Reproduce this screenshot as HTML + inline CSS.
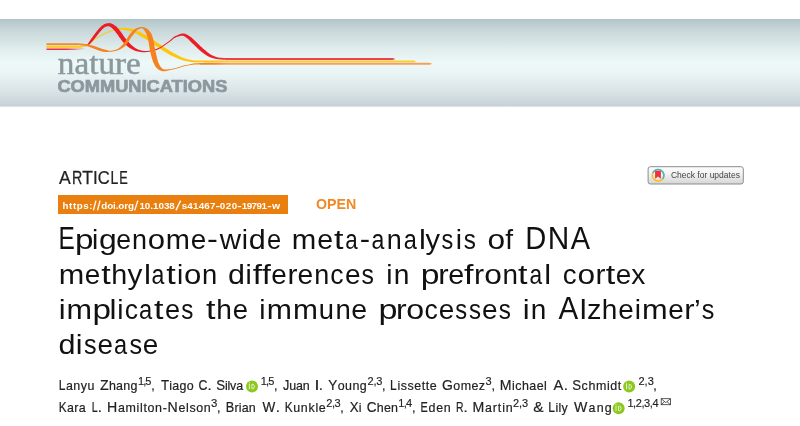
<!DOCTYPE html>
<html><head><meta charset="utf-8">
<title>Epigenome-wide meta-analysis of DNA methylation differences in prefrontal cortex implicates the immune processes in Alzheimer’s disease</title>
<style>
html,body{margin:0;padding:0;background:#fff;}
body{width:800px;height:426px;overflow:hidden;position:relative;font-family:"Liberation Sans",sans-serif;}
#banner{position:absolute;left:0;top:19px;width:800px;height:88px;
 background:linear-gradient(to bottom,#b1c5c8 0%,#c7d6d8 12%,#e2eeee 35%,#edf8f8 50%,#eaf4f5 62%,#dce6e9 80%,#c7d2d8 98.8%,#dde4e8 98.9%,#dde4e8 100%);}
#doibox{position:absolute;left:58px;top:195px;width:230px;height:19px;background:#e97f0f;}
svg{position:absolute;left:0;top:0;will-change:transform;}
text{font-family:"Liberation Sans",sans-serif;}
.t{font-size:28px;fill:#111;}
.a{font-size:13.1px;fill:#222;stroke:#222;stroke-width:0.2px;}
.art{font-size:18px;fill:#222;stroke:#222;stroke-width:0.25px;}
.doi{font-size:9.8px;font-weight:bold;fill:#fff;}
.s{font-size:11px;fill:#222;stroke:#222;stroke-width:0.15px;}
</style></head><body>
<div id="banner"></div>
<div id="doibox"></div>
<svg width="800" height="426" viewBox="0 0 800 426">
<defs><linearGradient id="rf" gradientUnits="userSpaceOnUse" x1="66" y1="0" x2="85" y2="0"><stop offset="0" stop-color="#ec3040"/><stop offset="1" stop-color="#ec3040" stop-opacity="0.15"/></linearGradient><linearGradient id="gy" gradientUnits="userSpaceOnUse" x1="40" y1="0" x2="440" y2="0"><stop offset="0" stop-color="#fcc81a"/><stop offset="0.10" stop-color="#fcc81a"/><stop offset="0.125" stop-color="#fdc60b"/><stop offset="0.43" stop-color="#fdc60b"/><stop offset="0.47" stop-color="#fccf2c"/><stop offset="1" stop-color="#fccf2c"/></linearGradient><linearGradient id="gr" gradientUnits="userSpaceOnUse" x1="40" y1="0" x2="440" y2="0"><stop offset="0" stop-color="#ec3040"/><stop offset="0.10" stop-color="#ec3040"/><stop offset="0.125" stop-color="#ec1c24"/><stop offset="0.43" stop-color="#ec1c24"/><stop offset="0.47" stop-color="#ee4152"/><stop offset="1" stop-color="#ee4152"/></linearGradient><linearGradient id="go" gradientUnits="userSpaceOnUse" x1="40" y1="0" x2="440" y2="0"><stop offset="0" stop-color="#f4872a"/><stop offset="0.10" stop-color="#f4872a"/><stop offset="0.125" stop-color="#f5821f"/><stop offset="0.43" stop-color="#f5821f"/><stop offset="0.47" stop-color="#f4a055"/><stop offset="1" stop-color="#f4a055"/></linearGradient></defs>
<path fill="url(#gy)" d="M46.50 47.70 L47.47 47.70 L48.45 47.70 L49.42 47.70 L50.39 47.70 L51.36 47.70 L52.33 47.70 L53.30 47.70 L54.26 47.70 L55.23 47.70 L56.19 47.70 L57.15 47.70 L58.11 47.70 L59.08 47.70 L60.03 47.70 L60.99 47.70 L61.95 47.70 L62.91 47.70 L63.86 47.70 L64.82 47.70 L65.77 47.70 L66.73 47.70 L67.68 47.70 L68.63 47.70 L69.58 47.70 L70.53 47.70 L71.48 47.70 L72.43 47.70 L73.38 47.70 L74.33 47.70 L75.27 47.70 L76.22 47.70 L77.17 47.70 L78.11 47.70 L79.06 47.70 L80.00 47.70 L81.04 47.62 L82.05 47.41 L83.04 47.11 L84.00 46.76 L84.92 46.39 L85.82 46.03 L86.69 45.71 L87.57 45.36 L88.42 44.92 L89.24 44.40 L90.03 43.84 L90.80 43.23 L91.56 42.59 L92.31 41.93 L93.06 41.27 L93.80 40.62 L94.55 40.00 L95.30 39.41 L96.07 38.87 L96.86 38.39 L97.68 37.90 L98.50 37.42 L99.33 36.95 L100.16 36.48 L101.00 36.01 L101.85 35.56 L102.70 35.11 L103.55 34.67 L104.41 34.24 L105.27 33.83 L106.14 33.42 L107.01 33.03 L107.88 32.66 L108.76 32.30 L109.64 31.96 L110.52 31.64 L111.41 31.33 L112.32 31.04 L113.24 30.78 L114.16 30.54 L115.09 30.33 L116.01 30.15 L116.93 30.01 L117.87 29.90 L118.82 29.80 L119.76 29.72 L120.67 29.68 L121.56 29.69 L122.46 29.75 L123.38 29.84 L124.31 29.95 L125.24 30.09 L126.17 30.25 L127.10 30.42 L128.03 30.61 L128.95 30.80 L129.85 31.00 L130.69 31.21 L131.52 31.47 L132.35 31.78 L133.18 32.11 L134.01 32.49 L134.83 32.89 L135.66 33.32 L136.49 33.77 L137.32 34.24 L138.15 34.72 L138.98 35.21 L139.81 35.70 L140.65 36.20 L141.49 36.69 L142.34 37.18 L143.19 37.65 L143.99 38.10 L144.79 38.56 L145.58 39.04 L146.37 39.53 L147.16 40.03 L147.95 40.54 L148.73 41.07 L149.52 41.60 L150.31 42.13 L151.09 42.67 L151.88 43.22 L152.67 43.76 L153.47 44.31 L154.27 44.85 L155.07 45.40 L155.88 45.94 L156.69 46.47 L157.50 46.99 L158.29 47.50 L159.09 48.03 L159.88 48.55 L160.68 49.08 L161.48 49.62 L162.28 50.15 L163.09 50.68 L163.90 51.22 L164.71 51.74 L165.53 52.27 L166.36 52.78 L167.19 53.29 L168.04 53.79 L168.89 54.27 L169.74 54.74 L170.61 55.20 L171.49 55.64 L172.35 56.05 L173.21 56.46 L174.09 56.87 L174.97 57.28 L175.87 57.68 L176.77 58.07 L177.68 58.45 L178.60 58.82 L179.53 59.17 L180.46 59.51 L181.40 59.83 L182.34 60.13 L183.29 60.41 L184.24 60.66 L185.19 60.89 L186.15 61.09 L187.07 61.27 L188.02 61.46 L188.97 61.64 L189.94 61.81 L190.92 61.97 L191.90 62.10 L192.90 62.20 L193.89 62.27 L194.89 62.30 L195.85 62.30 L196.80 62.30 L197.75 62.30 L198.70 62.30 L199.65 62.30 L200.60 62.30 L201.55 62.30 L202.50 62.30 L203.45 62.30 L204.40 62.30 L205.35 62.30 L206.30 62.30 L207.26 62.30 L208.21 62.30 L209.16 62.30 L210.11 62.30 L211.06 62.30 L212.01 62.30 L212.97 62.30 L213.92 62.30 L214.87 62.30 L215.82 62.30 L216.77 62.30 L217.73 62.30 L218.68 62.30 L219.63 62.30 L220.59 62.30 L221.54 62.30 L222.49 62.30 L223.44 62.30 L224.40 62.30 L225.35 62.30 L226.30 62.30 L227.26 62.30 L228.21 62.30 L229.17 62.30 L230.12 62.30 L231.07 62.30 L232.03 62.30 L232.98 62.30 L233.94 62.30 L234.89 62.30 L235.85 62.30 L236.80 62.30 L237.75 62.30 L238.71 62.30 L239.66 62.30 L240.62 62.30 L241.57 62.30 L242.53 62.30 L243.48 62.30 L244.44 62.30 L245.40 62.30 L246.35 62.30 L247.31 62.30 L248.26 62.30 L249.22 62.30 L250.17 62.30 L251.13 62.30 L252.09 62.30 L253.04 62.30 L254.00 62.30 L254.95 62.30 L255.91 62.30 L256.87 62.30 L257.82 62.30 L258.78 62.30 L259.74 62.30 L260.69 62.30 L261.65 62.30 L262.61 62.30 L263.56 62.30 L264.52 62.30 L265.48 62.30 L266.43 62.30 L267.39 62.30 L268.35 62.30 L269.30 62.30 L270.26 62.30 L271.22 62.30 L272.18 62.30 L273.13 62.30 L274.09 62.30 L275.05 62.30 L276.01 62.30 L276.97 62.30 L277.92 62.30 L278.88 62.30 L279.84 62.30 L280.80 62.30 L281.75 62.30 L282.71 62.30 L283.67 62.30 L284.63 62.30 L285.59 62.30 L286.55 62.30 L287.50 62.30 L288.46 62.30 L289.42 62.30 L290.38 62.30 L291.34 62.30 L292.30 62.30 L293.25 62.30 L294.21 62.30 L295.17 62.30 L296.13 62.30 L297.09 62.30 L298.05 62.30 L299.01 62.30 L299.97 62.30 L300.92 62.30 L301.88 62.30 L302.84 62.30 L303.80 62.30 L304.76 62.30 L305.72 62.30 L306.68 62.30 L307.64 62.30 L308.60 62.30 L309.56 62.30 L310.52 62.30 L311.47 62.30 L312.43 62.30 L313.39 62.30 L314.35 62.30 L315.31 62.30 L316.27 62.30 L317.23 62.30 L318.19 62.30 L319.15 62.30 L320.11 62.30 L321.07 62.30 L322.03 62.30 L322.99 62.30 L323.95 62.30 L324.91 62.30 L325.87 62.30 L326.83 62.30 L327.78 62.30 L328.74 62.30 L329.70 62.30 L330.66 62.30 L331.62 62.30 L332.58 62.30 L333.54 62.30 L334.50 62.30 L335.46 62.30 L336.42 62.30 L337.38 62.30 L338.34 62.30 L339.30 62.30 L340.26 62.30 L341.22 62.30 L342.18 62.30 L343.14 62.30 L344.10 62.30 L345.06 62.30 L346.02 62.30 L346.98 62.30 L347.94 62.30 L348.90 62.30 L349.86 62.30 L350.82 62.30 L351.77 62.30 L352.73 62.30 L353.69 62.30 L354.65 62.30 L355.61 62.30 L356.57 62.30 L357.53 62.30 L358.49 62.30 L359.45 62.30 L360.41 62.30 L361.37 62.30 L362.33 62.30 L363.29 62.30 L364.25 62.30 L365.21 62.30 L366.17 62.30 L367.13 62.30 L368.09 62.30 L369.04 62.30 L370.00 62.30 L370.96 62.30 L371.92 62.30 L372.88 62.30 L373.84 62.30 L374.80 62.30 L375.76 62.30 L376.72 62.30 L377.68 62.30 L378.64 62.30 L379.59 62.30 L380.55 62.30 L381.51 62.30 L382.47 62.30 L383.43 62.30 L384.39 62.30 L385.35 62.30 L386.31 62.30 L387.26 62.30 L388.22 62.30 L389.18 62.30 L390.14 62.30 L391.10 62.30 L392.06 62.30 L393.02 62.30 L393.97 62.30 L394.93 62.30 L395.89 62.30 L396.85 62.30 L397.81 62.30 L398.76 62.30 L399.72 62.30 L400.68 62.30 L401.64 62.30 L402.60 62.30 L403.55 62.30 L404.51 62.30 L405.47 62.30 L406.43 62.30 L407.38 62.30 L408.34 62.30 L409.30 62.30 L410.26 62.30 L411.21 62.30 L412.17 62.30 L413.13 62.30 L414.09 62.13 L415.04 61.81 L416.00 61.50 L416.00 61.20 L415.04 60.89 L414.09 60.57 L413.13 60.40 L412.17 60.40 L411.21 60.40 L410.26 60.40 L409.30 60.40 L408.34 60.40 L407.38 60.40 L406.43 60.40 L405.47 60.40 L404.51 60.40 L403.55 60.40 L402.60 60.40 L401.64 60.40 L400.68 60.40 L399.72 60.40 L398.76 60.40 L397.81 60.40 L396.85 60.40 L395.89 60.40 L394.93 60.40 L393.97 60.40 L393.02 60.40 L392.06 60.40 L391.10 60.40 L390.14 60.40 L389.18 60.40 L388.22 60.40 L387.26 60.40 L386.31 60.40 L385.35 60.40 L384.39 60.40 L383.43 60.40 L382.47 60.40 L381.51 60.40 L380.55 60.40 L379.59 60.40 L378.64 60.40 L377.68 60.40 L376.72 60.40 L375.76 60.40 L374.80 60.40 L373.84 60.40 L372.88 60.40 L371.92 60.40 L370.96 60.40 L370.00 60.40 L369.04 60.40 L368.09 60.40 L367.13 60.40 L366.17 60.40 L365.21 60.40 L364.25 60.40 L363.29 60.40 L362.33 60.40 L361.37 60.40 L360.41 60.40 L359.45 60.40 L358.49 60.40 L357.53 60.40 L356.57 60.40 L355.61 60.40 L354.65 60.40 L353.69 60.40 L352.73 60.40 L351.77 60.40 L350.82 60.40 L349.86 60.40 L348.90 60.40 L347.94 60.40 L346.98 60.40 L346.02 60.40 L345.06 60.40 L344.10 60.40 L343.14 60.40 L342.18 60.40 L341.22 60.40 L340.26 60.40 L339.30 60.40 L338.34 60.40 L337.38 60.40 L336.42 60.40 L335.46 60.40 L334.50 60.40 L333.54 60.40 L332.58 60.40 L331.62 60.40 L330.66 60.40 L329.70 60.40 L328.74 60.40 L327.78 60.40 L326.83 60.40 L325.87 60.40 L324.91 60.40 L323.95 60.40 L322.99 60.40 L322.03 60.40 L321.07 60.40 L320.11 60.40 L319.15 60.40 L318.19 60.40 L317.23 60.40 L316.27 60.40 L315.31 60.40 L314.35 60.40 L313.39 60.40 L312.43 60.40 L311.47 60.40 L310.52 60.40 L309.56 60.40 L308.60 60.40 L307.64 60.40 L306.68 60.40 L305.72 60.40 L304.76 60.40 L303.80 60.40 L302.84 60.40 L301.88 60.40 L300.92 60.40 L299.97 60.40 L299.01 60.40 L298.05 60.40 L297.09 60.40 L296.13 60.40 L295.17 60.40 L294.21 60.40 L293.25 60.40 L292.30 60.40 L291.34 60.40 L290.38 60.40 L289.42 60.40 L288.46 60.40 L287.50 60.40 L286.55 60.40 L285.59 60.40 L284.63 60.40 L283.67 60.40 L282.71 60.40 L281.75 60.40 L280.80 60.40 L279.84 60.40 L278.88 60.40 L277.92 60.40 L276.97 60.40 L276.01 60.40 L275.05 60.40 L274.09 60.40 L273.13 60.40 L272.18 60.40 L271.22 60.40 L270.26 60.40 L269.30 60.40 L268.35 60.40 L267.39 60.40 L266.43 60.40 L265.48 60.40 L264.52 60.40 L263.56 60.40 L262.61 60.40 L261.65 60.40 L260.69 60.40 L259.74 60.40 L258.78 60.40 L257.82 60.40 L256.87 60.40 L255.91 60.40 L254.95 60.40 L254.00 60.40 L253.04 60.40 L252.09 60.40 L251.13 60.40 L250.17 60.40 L249.22 60.40 L248.26 60.40 L247.31 60.40 L246.35 60.40 L245.40 60.40 L244.44 60.40 L243.48 60.40 L242.53 60.40 L241.57 60.40 L240.62 60.40 L239.66 60.40 L238.71 60.40 L237.75 60.40 L236.80 60.40 L235.85 60.40 L234.89 60.40 L233.94 60.40 L232.98 60.40 L232.03 60.40 L231.07 60.40 L230.12 60.40 L229.17 60.40 L228.21 60.40 L227.26 60.40 L226.30 60.40 L225.35 60.40 L224.40 60.40 L223.44 60.40 L222.49 60.40 L221.54 60.40 L220.59 60.40 L219.63 60.40 L218.68 60.40 L217.73 60.40 L216.77 60.40 L215.82 60.40 L214.87 60.40 L213.92 60.40 L212.97 60.40 L212.01 60.40 L211.06 60.40 L210.11 60.40 L209.16 60.40 L208.21 60.40 L207.26 60.40 L206.30 60.40 L205.35 60.40 L204.40 60.40 L203.45 60.40 L202.50 60.40 L201.55 60.40 L200.60 60.40 L199.65 60.40 L198.70 60.40 L197.75 60.40 L196.80 60.40 L195.85 60.40 L194.90 60.40 L194.00 60.37 L193.09 60.29 L192.17 60.17 L191.24 60.01 L190.32 59.83 L189.39 59.62 L188.46 59.40 L187.54 59.17 L186.62 58.95 L185.74 58.72 L184.88 58.45 L184.01 58.15 L183.15 57.82 L182.29 57.47 L181.43 57.09 L180.58 56.69 L179.73 56.27 L178.88 55.84 L178.04 55.40 L177.19 54.95 L176.35 54.50 L175.51 54.04 L174.66 53.59 L173.82 53.14 L172.98 52.69 L172.18 52.26 L171.38 51.81 L170.58 51.34 L169.79 50.86 L169.00 50.37 L168.21 49.86 L167.42 49.34 L166.63 48.82 L165.85 48.29 L165.06 47.75 L164.27 47.21 L163.47 46.66 L162.68 46.12 L161.88 45.57 L161.08 45.03 L160.27 44.50 L159.45 43.96 L158.65 43.45 L157.86 42.93 L157.07 42.41 L156.28 41.88 L155.50 41.34 L154.70 40.80 L153.91 40.26 L153.11 39.72 L152.32 39.18 L151.51 38.64 L150.70 38.10 L149.89 37.57 L149.07 37.04 L148.24 36.53 L147.41 36.02 L146.56 35.52 L145.71 35.04 L144.85 34.57 L144.02 34.13 L143.18 33.68 L142.34 33.22 L141.48 32.75 L140.60 32.29 L139.72 31.84 L138.83 31.39 L137.93 30.96 L137.01 30.54 L136.09 30.14 L135.16 29.77 L134.21 29.43 L133.26 29.12 L132.29 28.85 L131.32 28.62 L130.34 28.44 L129.40 28.30 L128.45 28.16 L127.49 28.03 L126.51 27.91 L125.52 27.81 L124.53 27.74 L123.53 27.69 L122.53 27.68 L121.53 27.71 L120.51 27.82 L119.52 27.99 L118.55 28.21 L117.61 28.44 L116.68 28.66 L115.73 28.90 L114.79 29.18 L113.85 29.48 L112.93 29.80 L112.02 30.13 L111.11 30.46 L110.22 30.79 L109.32 31.12 L108.42 31.47 L107.53 31.83 L106.65 32.21 L105.76 32.60 L104.89 33.01 L104.01 33.43 L103.14 33.87 L102.28 34.31 L101.42 34.76 L100.57 35.22 L99.73 35.69 L98.89 36.16 L98.05 36.64 L97.22 37.13 L96.40 37.61 L95.58 38.12 L94.77 38.69 L93.98 39.30 L93.22 39.94 L92.46 40.60 L91.72 41.26 L90.97 41.90 L90.23 42.53 L89.49 43.12 L88.74 43.66 L87.97 44.14 L87.20 44.54 L86.40 44.86 L85.53 45.12 L84.60 45.32 L83.66 45.48 L82.71 45.59 L81.77 45.66 L80.87 45.69 L80.00 45.70 L79.06 45.70 L78.11 45.70 L77.17 45.70 L76.22 45.70 L75.27 45.70 L74.33 45.70 L73.38 45.70 L72.43 45.70 L71.48 45.70 L70.53 45.70 L69.58 45.70 L68.63 45.70 L67.68 45.70 L66.73 45.70 L65.77 45.70 L64.82 45.70 L63.86 45.70 L62.91 45.70 L61.95 45.70 L60.99 45.70 L60.03 45.70 L59.08 45.70 L58.11 45.70 L57.15 45.70 L56.19 45.70 L55.23 45.70 L54.26 45.70 L53.30 45.70 L52.33 45.70 L51.36 45.70 L50.39 45.70 L49.42 45.70 L48.45 45.70 L47.47 45.70 L46.50 45.70Z"/>
<path fill="url(#rf)" d="M46.50 50.00 L46.60 50.00 L46.69 50.00 L46.79 50.00 L46.89 50.00 L46.98 50.00 L47.08 50.00 L47.18 50.00 L47.27 50.00 L47.37 50.00 L47.47 50.00 L47.56 50.00 L47.66 50.00 L47.76 50.00 L47.85 50.00 L47.95 50.00 L48.05 50.00 L48.14 50.00 L48.24 50.00 L48.34 50.00 L48.43 50.00 L48.53 50.00 L48.63 50.00 L48.72 50.00 L48.82 50.00 L48.92 50.00 L49.01 50.00 L49.11 50.00 L49.21 50.00 L49.30 50.00 L49.40 50.00 L49.50 50.00 L49.59 50.00 L49.69 50.00 L49.79 50.00 L49.88 50.00 L49.98 50.00 L50.08 50.00 L50.17 50.00 L50.27 50.00 L50.37 50.00 L50.46 50.00 L50.56 50.00 L50.66 50.00 L50.75 50.00 L50.85 50.00 L50.95 50.00 L51.04 50.00 L51.14 50.00 L51.24 50.00 L51.33 50.00 L51.43 50.00 L51.53 50.00 L51.62 50.00 L51.72 50.00 L51.82 50.00 L51.91 50.00 L52.01 50.00 L52.11 50.00 L52.20 50.00 L52.30 50.00 L52.40 50.00 L52.49 50.00 L52.59 50.00 L52.69 50.00 L52.78 50.00 L52.88 50.00 L52.98 50.00 L53.07 50.00 L53.17 50.00 L53.27 50.00 L53.36 50.00 L53.46 50.00 L53.56 50.00 L53.65 50.00 L53.75 50.00 L53.85 50.00 L53.94 50.00 L54.04 50.00 L54.14 50.00 L54.23 50.00 L54.33 50.00 L54.43 50.00 L54.52 50.00 L54.62 50.00 L54.72 50.00 L54.81 50.00 L54.91 50.00 L55.01 50.00 L55.10 50.00 L55.20 50.00 L55.30 50.00 L55.39 50.00 L55.49 50.00 L55.59 50.00 L55.68 50.00 L55.78 50.00 L55.88 50.00 L55.97 50.00 L56.07 50.00 L56.17 50.00 L56.26 50.00 L56.36 50.00 L56.46 50.00 L56.55 50.00 L56.65 50.00 L56.75 50.00 L56.84 50.00 L56.94 50.00 L57.04 50.00 L57.13 50.00 L57.23 50.00 L57.33 50.00 L57.42 50.00 L57.52 50.00 L57.62 50.00 L57.71 50.00 L57.81 50.00 L57.91 50.00 L58.00 50.00 L58.10 50.00 L58.20 50.00 L58.29 50.00 L58.39 50.00 L58.49 50.00 L58.58 50.00 L58.68 50.00 L58.78 50.00 L58.87 50.00 L58.97 50.00 L59.07 50.00 L59.16 50.00 L59.26 50.00 L59.36 50.00 L59.45 50.00 L59.55 50.00 L59.65 50.00 L59.74 50.00 L59.84 50.00 L59.94 50.00 L60.03 50.00 L60.13 50.00 L60.23 50.00 L60.32 50.00 L60.42 50.00 L60.52 50.00 L60.61 50.00 L60.71 50.00 L60.81 50.00 L60.90 50.00 L61.00 50.00 L61.10 50.00 L61.19 50.00 L61.29 50.00 L61.39 50.00 L61.48 50.00 L61.58 50.00 L61.68 50.00 L61.77 50.00 L61.87 50.00 L61.97 50.00 L62.06 50.00 L62.16 50.00 L62.26 50.00 L62.35 50.00 L62.45 50.00 L62.55 50.00 L62.64 50.00 L62.74 50.00 L62.84 50.00 L62.93 50.00 L63.03 50.00 L63.13 50.00 L63.22 50.00 L63.32 50.00 L63.42 50.00 L63.51 50.00 L63.61 50.00 L63.71 50.00 L63.80 50.00 L63.90 50.00 L64.00 50.00 L64.09 50.00 L64.19 50.00 L64.29 50.00 L64.38 50.00 L64.48 50.00 L64.58 50.00 L64.67 50.00 L64.77 50.00 L64.87 50.00 L64.96 50.00 L65.06 50.00 L65.15 50.00 L65.25 50.00 L65.35 50.00 L65.44 50.00 L65.54 50.00 L65.64 50.00 L65.73 50.00 L65.83 50.00 L65.93 50.00 L66.02 50.00 L66.12 50.00 L66.22 50.00 L66.31 50.00 L66.41 50.00 L66.51 50.00 L66.60 50.00 L66.70 50.00 L66.80 50.00 L66.89 50.00 L66.99 50.00 L67.09 50.00 L67.18 50.00 L67.28 50.00 L67.38 50.00 L67.47 50.00 L67.57 50.00 L67.67 50.00 L67.76 50.00 L67.86 50.00 L67.96 50.00 L68.05 50.00 L68.15 50.00 L68.25 50.00 L68.34 50.00 L68.44 50.00 L68.54 50.00 L68.63 50.00 L68.73 50.00 L68.83 50.00 L68.92 50.00 L69.02 50.00 L69.12 50.00 L69.21 50.00 L69.31 50.00 L69.41 50.00 L69.50 50.00 L69.60 50.00 L69.70 50.00 L69.79 50.00 L69.89 50.00 L69.99 50.00 L70.08 50.00 L70.18 50.00 L70.28 50.00 L70.38 50.00 L70.47 50.00 L70.57 50.00 L70.67 50.00 L70.76 50.00 L70.86 50.00 L70.96 50.00 L71.05 49.99 L71.15 49.99 L71.25 49.99 L71.35 49.99 L71.44 49.99 L71.54 49.99 L71.64 49.99 L71.73 49.99 L71.83 49.99 L71.93 49.98 L72.03 49.98 L72.12 49.98 L72.22 49.98 L72.32 49.98 L72.41 49.97 L72.51 49.97 L72.61 49.97 L72.71 49.97 L72.80 49.97 L72.90 49.96 L73.00 49.96 L73.09 49.96 L73.19 49.96 L73.29 49.95 L73.39 49.95 L73.48 49.95 L73.58 49.94 L73.68 49.94 L73.77 49.94 L73.87 49.93 L73.97 49.93 L74.07 49.93 L74.16 49.93 L74.26 49.92 L74.36 49.92 L74.45 49.91 L74.55 49.91 L74.65 49.91 L74.75 49.90 L74.84 49.90 L74.94 49.90 L75.04 49.89 L75.13 49.89 L75.23 49.88 L75.33 49.88 L75.42 49.88 L75.52 49.87 L75.62 49.87 L75.72 49.86 L75.81 49.86 L75.91 49.85 L76.01 49.85 L76.10 49.84 L76.20 49.84 L76.30 49.83 L76.39 49.83 L76.49 49.82 L76.59 49.82 L76.68 49.81 L76.78 49.81 L76.88 49.80 L76.97 49.80 L77.07 49.79 L77.17 49.79 L77.26 49.78 L77.36 49.78 L77.46 49.77 L77.55 49.76 L77.65 49.76 L77.75 49.75 L77.84 49.75 L77.94 49.74 L78.04 49.74 L78.13 49.73 L78.23 49.72 L78.33 49.72 L78.42 49.71 L78.52 49.70 L78.62 49.70 L78.71 49.69 L78.81 49.69 L78.91 49.68 L79.00 49.67 L79.10 49.67 L79.20 49.66 L79.29 49.65 L79.39 49.65 L79.48 49.64 L79.58 49.63 L79.68 49.63 L79.77 49.62 L79.87 49.61 L79.96 49.60 L80.06 49.60 L80.16 49.59 L80.26 49.58 L80.36 49.57 L80.46 49.56 L80.56 49.55 L80.66 49.53 L80.76 49.52 L80.86 49.50 L80.96 49.49 L81.05 49.47 L81.15 49.45 L81.25 49.44 L81.35 49.42 L81.45 49.40 L81.54 49.38 L81.64 49.36 L81.74 49.34 L81.83 49.31 L81.93 49.29 L82.03 49.27 L82.12 49.24 L82.22 49.22 L82.31 49.19 L82.41 49.17 L82.50 49.14 L82.60 49.12 L82.69 49.09 L82.79 49.06 L82.88 49.04 L82.98 49.01 L83.07 48.98 L83.17 48.95 L83.26 48.92 L83.35 48.89 L83.45 48.86 L83.54 48.83 L83.64 48.80 L83.73 48.77 L83.82 48.74 L83.92 48.71 L84.01 48.68 L84.10 48.65 L84.20 48.62 L84.29 48.59 L84.38 48.56 L84.47 48.53 L84.57 48.50 L84.66 48.47 L84.75 48.44 L84.85 48.41 L84.94 48.38 L85.03 48.35 L84.97 48.05 L84.87 48.06 L84.77 48.07 L84.68 48.08 L84.58 48.09 L84.48 48.10 L84.39 48.11 L84.29 48.12 L84.19 48.13 L84.09 48.14 L84.00 48.15 L83.90 48.16 L83.80 48.17 L83.70 48.17 L83.61 48.18 L83.51 48.19 L83.41 48.20 L83.32 48.21 L83.22 48.22 L83.12 48.23 L83.03 48.24 L82.93 48.25 L82.83 48.25 L82.74 48.26 L82.64 48.27 L82.55 48.28 L82.45 48.29 L82.35 48.29 L82.26 48.30 L82.16 48.31 L82.07 48.32 L81.97 48.32 L81.88 48.33 L81.78 48.33 L81.69 48.34 L81.59 48.35 L81.50 48.35 L81.41 48.36 L81.31 48.36 L81.22 48.37 L81.12 48.37 L81.03 48.38 L80.94 48.38 L80.84 48.38 L80.75 48.39 L80.66 48.39 L80.57 48.39 L80.47 48.39 L80.38 48.40 L80.29 48.40 L80.20 48.40 L80.10 48.40 L80.01 48.40 L79.92 48.40 L79.82 48.40 L79.73 48.40 L79.63 48.40 L79.53 48.40 L79.44 48.40 L79.34 48.40 L79.25 48.40 L79.15 48.40 L79.05 48.40 L78.96 48.40 L78.86 48.40 L78.77 48.40 L78.67 48.40 L78.57 48.40 L78.48 48.40 L78.38 48.40 L78.28 48.40 L78.19 48.40 L78.09 48.40 L78.00 48.41 L77.90 48.41 L77.80 48.41 L77.71 48.41 L77.61 48.41 L77.51 48.41 L77.42 48.41 L77.32 48.41 L77.23 48.41 L77.13 48.41 L77.03 48.41 L76.94 48.41 L76.84 48.41 L76.74 48.41 L76.65 48.41 L76.55 48.41 L76.45 48.41 L76.36 48.41 L76.26 48.41 L76.16 48.41 L76.07 48.41 L75.97 48.41 L75.87 48.41 L75.78 48.41 L75.68 48.41 L75.59 48.41 L75.49 48.41 L75.39 48.41 L75.30 48.41 L75.20 48.40 L75.10 48.40 L75.01 48.40 L74.91 48.40 L74.81 48.40 L74.72 48.40 L74.62 48.40 L74.52 48.40 L74.43 48.40 L74.33 48.40 L74.23 48.40 L74.14 48.40 L74.04 48.40 L73.94 48.40 L73.85 48.40 L73.75 48.40 L73.65 48.40 L73.56 48.40 L73.46 48.40 L73.36 48.40 L73.27 48.40 L73.17 48.40 L73.07 48.40 L72.98 48.40 L72.88 48.40 L72.78 48.40 L72.69 48.40 L72.59 48.40 L72.50 48.40 L72.40 48.40 L72.30 48.40 L72.21 48.40 L72.11 48.40 L72.01 48.40 L71.92 48.40 L71.82 48.40 L71.72 48.40 L71.63 48.40 L71.53 48.40 L71.43 48.40 L71.34 48.40 L71.24 48.40 L71.14 48.40 L71.05 48.40 L70.95 48.40 L70.85 48.40 L70.76 48.40 L70.66 48.40 L70.57 48.40 L70.47 48.40 L70.37 48.40 L70.28 48.40 L70.18 48.40 L70.08 48.40 L69.99 48.40 L69.89 48.40 L69.79 48.40 L69.70 48.40 L69.60 48.40 L69.50 48.40 L69.41 48.40 L69.31 48.40 L69.21 48.40 L69.12 48.40 L69.02 48.40 L68.92 48.40 L68.83 48.40 L68.73 48.40 L68.63 48.40 L68.54 48.40 L68.44 48.40 L68.34 48.40 L68.25 48.40 L68.15 48.40 L68.05 48.40 L67.96 48.40 L67.86 48.40 L67.76 48.40 L67.67 48.40 L67.57 48.40 L67.47 48.40 L67.38 48.40 L67.28 48.40 L67.18 48.40 L67.09 48.40 L66.99 48.40 L66.89 48.40 L66.80 48.40 L66.70 48.40 L66.60 48.40 L66.51 48.40 L66.41 48.40 L66.31 48.40 L66.22 48.40 L66.12 48.40 L66.02 48.40 L65.93 48.40 L65.83 48.40 L65.73 48.40 L65.64 48.40 L65.54 48.40 L65.44 48.40 L65.35 48.40 L65.25 48.40 L65.15 48.40 L65.06 48.40 L64.96 48.40 L64.87 48.40 L64.77 48.40 L64.67 48.40 L64.58 48.40 L64.48 48.40 L64.38 48.40 L64.29 48.40 L64.19 48.40 L64.09 48.40 L64.00 48.40 L63.90 48.40 L63.80 48.40 L63.71 48.40 L63.61 48.40 L63.51 48.40 L63.42 48.40 L63.32 48.40 L63.22 48.40 L63.13 48.40 L63.03 48.40 L62.93 48.40 L62.84 48.40 L62.74 48.40 L62.64 48.40 L62.55 48.40 L62.45 48.40 L62.35 48.40 L62.26 48.40 L62.16 48.40 L62.06 48.40 L61.97 48.40 L61.87 48.40 L61.77 48.40 L61.68 48.40 L61.58 48.40 L61.48 48.40 L61.39 48.40 L61.29 48.40 L61.19 48.40 L61.10 48.40 L61.00 48.40 L60.90 48.40 L60.81 48.40 L60.71 48.40 L60.61 48.40 L60.52 48.40 L60.42 48.40 L60.32 48.40 L60.23 48.40 L60.13 48.40 L60.03 48.40 L59.94 48.40 L59.84 48.40 L59.74 48.40 L59.65 48.40 L59.55 48.40 L59.45 48.40 L59.36 48.40 L59.26 48.40 L59.16 48.40 L59.07 48.40 L58.97 48.40 L58.87 48.40 L58.78 48.40 L58.68 48.40 L58.58 48.40 L58.49 48.40 L58.39 48.40 L58.29 48.40 L58.20 48.40 L58.10 48.40 L58.00 48.40 L57.91 48.40 L57.81 48.40 L57.71 48.40 L57.62 48.40 L57.52 48.40 L57.42 48.40 L57.33 48.40 L57.23 48.40 L57.13 48.40 L57.04 48.40 L56.94 48.40 L56.84 48.40 L56.75 48.40 L56.65 48.40 L56.55 48.40 L56.46 48.40 L56.36 48.40 L56.26 48.40 L56.17 48.40 L56.07 48.40 L55.97 48.40 L55.88 48.40 L55.78 48.40 L55.68 48.40 L55.59 48.40 L55.49 48.40 L55.39 48.40 L55.30 48.40 L55.20 48.40 L55.10 48.40 L55.01 48.40 L54.91 48.40 L54.81 48.40 L54.72 48.40 L54.62 48.40 L54.52 48.40 L54.43 48.40 L54.33 48.40 L54.23 48.40 L54.14 48.40 L54.04 48.40 L53.94 48.40 L53.85 48.40 L53.75 48.40 L53.65 48.40 L53.56 48.40 L53.46 48.40 L53.36 48.40 L53.27 48.40 L53.17 48.40 L53.07 48.40 L52.98 48.40 L52.88 48.40 L52.78 48.40 L52.69 48.40 L52.59 48.40 L52.49 48.40 L52.40 48.40 L52.30 48.40 L52.20 48.40 L52.11 48.40 L52.01 48.40 L51.91 48.40 L51.82 48.40 L51.72 48.40 L51.62 48.40 L51.53 48.40 L51.43 48.40 L51.33 48.40 L51.24 48.40 L51.14 48.40 L51.04 48.40 L50.95 48.40 L50.85 48.40 L50.75 48.40 L50.66 48.40 L50.56 48.40 L50.46 48.40 L50.37 48.40 L50.27 48.40 L50.17 48.40 L50.08 48.40 L49.98 48.40 L49.88 48.40 L49.79 48.40 L49.69 48.40 L49.59 48.40 L49.50 48.40 L49.40 48.40 L49.30 48.40 L49.21 48.40 L49.11 48.40 L49.01 48.40 L48.92 48.40 L48.82 48.40 L48.72 48.40 L48.63 48.40 L48.53 48.40 L48.43 48.40 L48.34 48.40 L48.24 48.40 L48.14 48.40 L48.05 48.40 L47.95 48.40 L47.85 48.40 L47.76 48.40 L47.66 48.40 L47.56 48.40 L47.47 48.40 L47.37 48.40 L47.27 48.40 L47.18 48.40 L47.08 48.40 L46.98 48.40 L46.89 48.40 L46.79 48.40 L46.69 48.40 L46.60 48.40 L46.50 48.40Z"/>
<path fill="url(#gr)" d="M86.09 46.42 L86.88 46.01 L87.65 45.57 L88.40 45.09 L89.11 44.57 L89.79 44.00 L90.44 43.39 L91.06 42.76 L91.66 42.12 L92.24 41.46 L92.80 40.81 L93.35 40.16 L93.90 39.52 L94.45 38.85 L95.00 38.18 L95.54 37.51 L96.07 36.85 L96.60 36.18 L97.13 35.52 L97.65 34.86 L98.19 34.19 L98.72 33.51 L99.25 32.83 L99.77 32.17 L100.30 31.52 L100.83 30.90 L101.37 30.30 L101.93 29.71 L102.52 29.11 L103.11 28.54 L103.69 28.03 L104.26 27.60 L104.96 27.15 L105.63 26.74 L106.22 26.47 L106.68 26.38 L107.48 26.32 L108.30 26.28 L109.08 26.29 L109.47 26.38 L109.98 26.64 L110.64 27.06 L111.31 27.50 L111.83 27.91 L112.36 28.42 L112.91 28.99 L113.49 29.59 L114.01 30.14 L114.51 30.73 L115.02 31.35 L115.54 32.00 L116.06 32.64 L116.56 33.27 L117.05 33.93 L117.53 34.59 L118.02 35.28 L118.50 35.97 L118.99 36.68 L119.48 37.39 L119.98 38.11 L120.49 38.82 L121.02 39.54 L121.56 40.25 L122.13 40.96 L122.72 41.65 L123.30 42.31 L123.89 42.94 L124.51 43.58 L125.14 44.21 L125.79 44.84 L126.46 45.45 L127.15 46.05 L127.86 46.63 L128.59 47.18 L129.33 47.71 L130.09 48.21 L130.85 48.67 L131.62 49.10 L132.41 49.51 L133.24 49.91 L134.08 50.29 L134.94 50.64 L135.81 50.95 L136.69 51.21 L137.57 51.43 L138.41 51.60 L139.26 51.76 L140.14 51.92 L141.02 52.06 L141.92 52.16 L142.82 52.23 L143.72 52.25 L144.60 52.23 L145.46 52.17 L146.33 52.10 L147.20 52.01 L148.07 51.90 L148.93 51.78 L149.79 51.65 L150.64 51.52 L151.49 51.39 L152.33 51.25 L153.19 51.07 L154.04 50.84 L154.89 50.57 L155.72 50.27 L156.54 49.96 L157.34 49.63 L158.12 49.29 L158.90 48.94 L159.67 48.56 L160.43 48.15 L161.18 47.72 L161.93 47.27 L162.66 46.80 L163.38 46.32 L164.10 45.83 L164.82 45.34 L165.53 44.84 L166.23 44.34 L166.94 43.84 L167.64 43.35 L168.35 42.87 L169.06 42.36 L169.77 41.82 L170.46 41.26 L171.14 40.70 L171.82 40.14 L172.49 39.58 L173.17 39.05 L173.85 38.55 L174.53 38.09 L175.22 37.67 L175.91 37.30 L176.61 37.00 L177.38 36.73 L178.19 36.46 L179.02 36.21 L179.85 36.00 L180.67 35.83 L181.47 35.72 L182.22 35.68 L182.89 35.71 L183.46 35.86 L184.07 36.14 L184.72 36.53 L185.40 37.01 L186.09 37.52 L186.80 38.05 L187.46 38.52 L188.03 38.98 L188.59 39.50 L189.16 40.06 L189.73 40.65 L190.32 41.27 L190.92 41.90 L191.55 42.53 L192.21 43.15 L192.83 43.72 L193.44 44.29 L194.05 44.87 L194.66 45.47 L195.27 46.06 L195.88 46.66 L196.50 47.27 L197.12 47.87 L197.75 48.48 L198.38 49.07 L199.03 49.67 L199.68 50.26 L200.34 50.84 L201.02 51.41 L201.71 51.96 L202.40 52.49 L203.08 53.00 L203.78 53.52 L204.49 54.04 L205.23 54.56 L205.98 55.06 L206.75 55.55 L207.53 56.02 L208.33 56.46 L209.15 56.87 L209.98 57.25 L210.83 57.57 L211.66 57.85 L212.48 58.09 L213.32 58.33 L214.18 58.55 L215.05 58.76 L215.94 58.94 L216.82 59.11 L217.72 59.25 L218.61 59.37 L219.50 59.46 L220.37 59.53 L221.22 59.59 L222.07 59.64 L222.93 59.70 L223.79 59.75 L224.65 59.80 L225.51 59.84 L226.38 59.88 L227.24 59.91 L228.11 59.93 L228.97 59.94 L229.84 59.95 L230.70 59.95 L231.55 59.95 L232.41 59.95 L233.26 59.95 L234.12 59.95 L234.97 59.95 L235.83 59.95 L236.68 59.95 L237.54 59.95 L238.39 59.95 L239.25 59.95 L240.10 59.95 L240.96 59.95 L241.82 59.95 L242.67 59.95 L243.53 59.95 L244.38 59.95 L245.24 59.95 L246.09 59.95 L246.95 59.95 L247.80 59.95 L248.66 59.95 L249.51 59.95 L250.37 59.95 L251.23 59.95 L252.08 59.95 L252.94 59.95 L253.79 59.95 L254.65 59.95 L255.50 59.95 L256.36 59.95 L257.21 59.95 L258.07 59.95 L258.93 59.95 L259.78 59.95 L260.64 59.95 L261.49 59.95 L262.35 59.95 L263.20 59.95 L264.06 59.95 L264.91 59.95 L265.77 59.95 L266.63 59.95 L267.48 59.95 L268.34 59.95 L269.19 59.95 L270.05 59.95 L270.90 59.95 L271.76 59.95 L272.62 59.95 L273.47 59.95 L274.33 59.95 L275.18 59.95 L276.04 59.95 L276.89 59.95 L277.75 59.95 L278.61 59.95 L279.46 59.95 L280.32 59.95 L281.17 59.95 L282.03 59.95 L282.88 59.95 L283.74 59.95 L284.60 59.95 L285.45 59.95 L286.31 59.95 L287.16 59.95 L288.02 59.95 L288.87 59.95 L289.73 59.95 L290.59 59.95 L291.44 59.95 L292.30 59.95 L293.15 59.95 L294.01 59.95 L294.86 59.95 L295.72 59.95 L296.58 59.95 L297.43 59.95 L298.29 59.95 L299.14 59.95 L300.00 59.95 L300.86 59.95 L301.71 59.95 L302.57 59.95 L303.42 59.95 L304.28 59.95 L305.13 59.95 L305.99 59.95 L306.85 59.95 L307.70 59.95 L308.56 59.95 L309.41 59.95 L310.27 59.95 L311.13 59.95 L311.98 59.95 L312.84 59.95 L313.69 59.95 L314.55 59.95 L315.41 59.95 L316.26 59.95 L317.12 59.95 L317.97 59.95 L318.83 59.95 L319.68 59.95 L320.54 59.95 L321.40 59.95 L322.25 59.95 L323.11 59.95 L323.96 59.95 L324.82 59.95 L325.68 59.95 L326.53 59.95 L327.39 59.95 L328.24 59.95 L329.10 59.95 L329.96 59.95 L330.81 59.95 L331.67 59.95 L332.52 59.95 L333.38 59.95 L334.23 59.95 L335.09 59.95 L335.95 59.95 L336.80 59.95 L337.66 59.95 L338.51 59.95 L339.37 59.95 L340.23 59.95 L341.08 59.95 L341.94 59.95 L342.79 59.95 L343.65 59.95 L344.51 59.95 L345.36 59.95 L346.22 59.95 L347.07 59.95 L347.93 59.95 L348.79 59.95 L349.64 59.95 L350.50 59.95 L351.35 59.95 L352.21 59.95 L353.06 59.95 L353.92 59.95 L354.78 59.95 L355.63 59.95 L356.49 59.95 L357.34 59.95 L358.20 59.95 L359.06 59.95 L359.91 59.95 L360.77 59.95 L361.62 59.95 L362.48 59.95 L363.34 59.95 L364.19 59.95 L365.05 59.95 L365.90 59.95 L366.76 59.95 L367.61 59.95 L368.47 59.95 L369.33 59.95 L370.18 59.95 L371.04 59.95 L371.89 59.95 L372.75 59.95 L373.61 59.95 L374.46 59.95 L375.32 59.95 L376.17 59.95 L377.03 59.95 L377.88 59.95 L378.74 59.95 L379.60 59.95 L380.45 59.95 L381.31 59.95 L382.16 59.95 L383.02 59.95 L383.88 59.95 L384.73 59.95 L385.59 59.95 L386.44 59.95 L387.30 59.95 L388.15 59.95 L389.01 59.95 L389.87 59.95 L390.72 59.95 L391.58 59.95 L392.43 59.92 L393.29 59.72 L394.14 59.43 L395.00 59.15 L395.00 58.85 L394.14 58.57 L393.29 58.28 L392.43 58.08 L391.58 58.05 L390.72 58.05 L389.87 58.05 L389.01 58.05 L388.15 58.05 L387.30 58.05 L386.44 58.05 L385.59 58.05 L384.73 58.05 L383.88 58.05 L383.02 58.05 L382.16 58.05 L381.31 58.05 L380.45 58.05 L379.60 58.05 L378.74 58.05 L377.88 58.05 L377.03 58.05 L376.17 58.05 L375.32 58.05 L374.46 58.05 L373.61 58.05 L372.75 58.05 L371.89 58.05 L371.04 58.05 L370.18 58.05 L369.33 58.05 L368.47 58.05 L367.61 58.05 L366.76 58.05 L365.90 58.05 L365.05 58.05 L364.19 58.05 L363.34 58.05 L362.48 58.05 L361.62 58.05 L360.77 58.05 L359.91 58.05 L359.06 58.05 L358.20 58.05 L357.34 58.05 L356.49 58.05 L355.63 58.05 L354.78 58.05 L353.92 58.05 L353.06 58.05 L352.21 58.05 L351.35 58.05 L350.50 58.05 L349.64 58.05 L348.79 58.05 L347.93 58.05 L347.07 58.05 L346.22 58.05 L345.36 58.05 L344.51 58.05 L343.65 58.05 L342.79 58.05 L341.94 58.05 L341.08 58.05 L340.23 58.05 L339.37 58.05 L338.51 58.05 L337.66 58.05 L336.80 58.05 L335.95 58.05 L335.09 58.05 L334.23 58.05 L333.38 58.05 L332.52 58.05 L331.67 58.05 L330.81 58.05 L329.96 58.05 L329.10 58.05 L328.24 58.05 L327.39 58.05 L326.53 58.05 L325.68 58.05 L324.82 58.05 L323.96 58.05 L323.11 58.05 L322.25 58.05 L321.40 58.05 L320.54 58.05 L319.68 58.05 L318.83 58.05 L317.97 58.05 L317.12 58.05 L316.26 58.05 L315.41 58.05 L314.55 58.05 L313.69 58.05 L312.84 58.05 L311.98 58.05 L311.13 58.05 L310.27 58.05 L309.41 58.05 L308.56 58.05 L307.70 58.05 L306.85 58.05 L305.99 58.05 L305.13 58.05 L304.28 58.05 L303.42 58.05 L302.57 58.05 L301.71 58.05 L300.86 58.05 L300.00 58.05 L299.14 58.05 L298.29 58.05 L297.43 58.05 L296.58 58.05 L295.72 58.05 L294.86 58.05 L294.01 58.05 L293.15 58.05 L292.30 58.05 L291.44 58.05 L290.59 58.05 L289.73 58.05 L288.87 58.05 L288.02 58.05 L287.16 58.05 L286.31 58.05 L285.45 58.05 L284.60 58.05 L283.74 58.05 L282.88 58.05 L282.03 58.05 L281.17 58.05 L280.32 58.05 L279.46 58.05 L278.61 58.05 L277.75 58.05 L276.89 58.05 L276.04 58.05 L275.18 58.05 L274.33 58.05 L273.47 58.05 L272.62 58.05 L271.76 58.05 L270.90 58.05 L270.05 58.05 L269.19 58.05 L268.34 58.05 L267.48 58.05 L266.63 58.05 L265.77 58.05 L264.91 58.05 L264.06 58.05 L263.20 58.05 L262.35 58.05 L261.49 58.05 L260.64 58.05 L259.78 58.05 L258.93 58.05 L258.07 58.05 L257.21 58.05 L256.36 58.05 L255.50 58.05 L254.65 58.05 L253.79 58.05 L252.94 58.05 L252.08 58.05 L251.23 58.05 L250.37 58.05 L249.51 58.05 L248.66 58.05 L247.80 58.05 L246.95 58.05 L246.09 58.05 L245.24 58.05 L244.38 58.05 L243.53 58.05 L242.67 58.05 L241.82 58.05 L240.96 58.05 L240.10 58.05 L239.25 58.05 L238.39 58.05 L237.54 58.05 L236.68 58.05 L235.83 58.05 L234.97 58.05 L234.12 58.05 L233.26 58.05 L232.41 58.05 L231.55 58.05 L230.70 58.05 L229.84 58.05 L228.99 58.05 L228.14 58.04 L227.29 58.02 L226.44 58.01 L225.58 57.98 L224.73 57.95 L223.88 57.92 L223.03 57.88 L222.18 57.84 L221.33 57.79 L220.49 57.73 L219.67 57.67 L218.87 57.56 L218.06 57.40 L217.25 57.19 L216.44 56.95 L215.64 56.68 L214.85 56.39 L214.07 56.09 L213.30 55.77 L212.54 55.45 L211.83 55.13 L211.16 54.79 L210.49 54.40 L209.83 53.96 L209.17 53.49 L208.51 53.00 L207.86 52.48 L207.20 51.94 L206.55 51.39 L205.88 50.83 L205.22 50.28 L204.55 49.73 L203.90 49.22 L203.27 48.70 L202.65 48.17 L202.04 47.62 L201.43 47.06 L200.82 46.49 L200.22 45.90 L199.61 45.31 L199.01 44.72 L198.40 44.11 L197.78 43.51 L197.17 42.90 L196.55 42.29 L195.92 41.68 L195.28 41.08 L194.63 40.49 L194.03 39.94 L193.42 39.36 L192.79 38.77 L192.14 38.17 L191.46 37.57 L190.74 36.99 L190.00 36.43 L189.21 35.91 L188.45 35.48 L187.69 35.05 L186.85 34.61 L185.96 34.19 L185.02 33.83 L184.02 33.58 L182.98 33.49 L182.03 33.59 L181.12 33.77 L180.22 34.03 L179.34 34.34 L178.48 34.68 L177.65 35.03 L176.85 35.38 L176.08 35.72 L175.30 36.12 L174.55 36.57 L173.83 37.06 L173.13 37.59 L172.44 38.15 L171.77 38.73 L171.11 39.31 L170.45 39.90 L169.79 40.47 L169.13 41.03 L168.46 41.55 L167.78 42.04 L167.07 42.53 L166.36 43.02 L165.66 43.52 L164.95 44.02 L164.24 44.52 L163.54 45.01 L162.83 45.49 L162.11 45.96 L161.40 46.42 L160.68 46.86 L159.95 47.28 L159.22 47.67 L158.48 48.04 L157.73 48.37 L156.95 48.70 L156.16 49.03 L155.37 49.34 L154.56 49.62 L153.76 49.88 L152.96 50.10 L152.15 50.27 L151.33 50.40 L150.49 50.52 L149.65 50.63 L148.80 50.73 L147.95 50.81 L147.10 50.88 L146.25 50.93 L145.41 50.96 L144.57 50.96 L143.75 50.94 L142.95 50.86 L142.14 50.71 L141.33 50.52 L140.52 50.29 L139.71 50.03 L138.91 49.76 L138.13 49.49 L137.41 49.19 L136.70 48.84 L135.99 48.43 L135.29 48.00 L134.60 47.53 L133.92 47.04 L133.26 46.54 L132.61 46.04 L132.00 45.55 L131.42 45.04 L130.85 44.50 L130.28 43.93 L129.72 43.34 L129.17 42.73 L128.62 42.10 L128.07 41.47 L127.53 40.82 L126.98 40.18 L126.44 39.53 L125.90 38.91 L125.40 38.30 L124.91 37.67 L124.43 37.02 L123.95 36.35 L123.48 35.67 L123.00 34.97 L122.52 34.26 L122.03 33.55 L121.54 32.83 L121.03 32.11 L120.51 31.38 L119.97 30.66 L119.42 29.95 L118.85 29.27 L118.28 28.60 L117.66 27.92 L117.00 27.25 L116.30 26.62 L115.62 26.04 L114.87 25.45 L114.05 24.88 L113.16 24.36 L112.35 23.98 L111.43 23.57 L110.32 23.22 L109.05 23.11 L108.12 23.18 L107.20 23.28 L106.31 23.40 L105.17 23.70 L104.18 24.19 L103.36 24.72 L102.62 25.21 L101.85 25.79 L101.14 26.41 L100.47 27.05 L99.85 27.69 L99.24 28.33 L98.64 28.99 L98.06 29.67 L97.51 30.36 L96.97 31.04 L96.43 31.72 L95.91 32.39 L95.38 33.06 L94.85 33.75 L94.33 34.44 L93.83 35.14 L93.33 35.84 L92.83 36.53 L92.34 37.22 L91.84 37.91 L91.34 38.62 L90.85 39.34 L90.38 40.06 L89.91 40.77 L89.46 41.48 L88.99 42.17 L88.52 42.84 L88.03 43.50 L87.52 44.16 L87.00 44.83 L86.46 45.51 L85.91 46.18Z"/>
<path fill="url(#go)" d="M46.50 45.05 L47.57 45.05 L48.64 45.05 L49.71 45.05 L50.78 45.05 L51.85 45.05 L52.92 45.05 L53.98 45.05 L55.05 45.05 L56.12 45.05 L57.19 45.05 L58.25 45.05 L59.32 45.05 L60.39 45.05 L61.45 45.05 L62.52 45.05 L63.58 45.05 L64.65 45.05 L65.71 45.05 L66.78 45.05 L67.84 45.05 L68.91 45.05 L69.97 45.05 L71.04 45.05 L72.10 45.05 L73.16 45.05 L74.23 45.05 L75.29 45.05 L76.35 45.05 L77.42 45.05 L78.47 45.05 L79.50 45.09 L80.54 45.17 L81.59 45.27 L82.63 45.40 L83.68 45.55 L84.73 45.71 L85.77 45.87 L86.76 46.08 L87.74 46.36 L88.73 46.71 L89.71 47.08 L90.71 47.46 L91.71 47.82 L92.67 48.17 L93.63 48.55 L94.61 48.95 L95.61 49.35 L96.62 49.75 L97.66 50.11 L98.66 50.44 L99.68 50.78 L100.73 51.11 L101.81 51.40 L102.92 51.65 L104.03 51.81 L105.10 51.89 L106.20 51.90 L107.30 51.88 L108.41 51.85 L109.50 51.81 L110.59 51.80 L111.70 51.73 L112.80 51.58 L113.88 51.37 L114.95 51.13 L115.98 50.87 L117.04 50.58 L118.11 50.21 L119.16 49.78 L120.17 49.32 L121.14 48.80 L122.11 48.22 L123.06 47.59 L123.97 46.90 L124.82 46.16 L125.61 45.39 L126.36 44.55 L127.06 43.68 L127.72 42.78 L128.34 41.86 L128.94 40.94 L129.52 40.01 L130.09 39.10 L130.66 38.21 L131.23 37.35 L131.82 36.52 L132.42 35.74 L133.09 34.92 L133.76 34.03 L134.40 33.14 L135.04 32.27 L135.67 31.48 L136.31 30.78 L136.97 30.20 L137.70 29.75 L138.60 29.28 L139.58 28.84 L140.57 28.49 L141.53 28.28 L142.32 28.31 L143.04 28.78 L143.70 29.57 L144.30 30.46 L144.87 31.29 L145.33 32.02 L145.78 32.83 L146.20 33.71 L146.59 34.61 L146.94 35.51 L147.24 36.37 L147.51 37.22 L147.77 38.12 L148.01 39.06 L148.22 40.02 L148.42 41.00 L148.60 42.01 L148.78 43.04 L148.94 44.08 L149.10 45.14 L149.27 46.21 L149.43 47.29 L149.61 48.38 L149.79 49.47 L150.00 50.57 L150.22 51.67 L150.46 52.77 L150.73 53.85 L151.00 54.88 L151.28 55.94 L151.58 57.03 L151.89 58.14 L152.23 59.25 L152.59 60.36 L152.97 61.46 L153.39 62.54 L153.85 63.60 L154.35 64.62 L154.90 65.59 L155.50 66.52 L156.19 67.41 L157.05 68.29 L158.05 69.14 L159.16 69.92 L160.35 70.58 L161.58 71.09 L162.84 71.37 L164.05 71.37 L165.08 71.23 L166.13 71.04 L167.21 70.81 L168.29 70.56 L169.38 70.31 L170.46 70.05 L171.53 69.81 L172.58 69.60 L173.64 69.38 L174.68 69.12 L175.72 68.84 L176.75 68.54 L177.78 68.23 L178.80 67.91 L179.82 67.58 L180.84 67.26 L181.86 66.95 L182.88 66.65 L183.90 66.36 L184.92 66.11 L185.95 65.88 L186.99 65.67 L188.04 65.47 L189.09 65.28 L190.14 65.09 L191.19 64.92 L192.24 64.77 L193.29 64.65 L194.34 64.56 L195.38 64.51 L196.42 64.50 L197.48 64.52 L198.54 64.55 L199.61 64.59 L200.67 64.63 L201.74 64.68 L202.80 64.71 L203.87 64.74 L204.93 64.75 L206.00 64.75 L207.06 64.75 L208.13 64.75 L209.20 64.75 L210.26 64.75 L211.33 64.75 L212.39 64.75 L213.46 64.75 L214.53 64.75 L215.59 64.75 L216.66 64.75 L217.72 64.75 L218.79 64.75 L219.86 64.75 L220.92 64.75 L221.99 64.75 L223.05 64.75 L224.12 64.75 L225.19 64.75 L226.25 64.75 L227.32 64.75 L228.38 64.75 L229.45 64.75 L230.52 64.75 L231.58 64.75 L232.65 64.75 L233.71 64.75 L234.78 64.75 L235.85 64.75 L236.91 64.75 L237.98 64.75 L239.05 64.75 L240.11 64.75 L241.18 64.75 L242.24 64.75 L243.31 64.75 L244.38 64.75 L245.44 64.75 L246.51 64.75 L247.57 64.75 L248.64 64.75 L249.71 64.75 L250.77 64.75 L251.84 64.75 L252.90 64.75 L253.97 64.75 L255.04 64.75 L256.10 64.75 L257.17 64.75 L258.23 64.75 L259.30 64.75 L260.37 64.75 L261.43 64.75 L262.50 64.75 L263.56 64.75 L264.63 64.75 L265.70 64.75 L266.76 64.75 L267.83 64.75 L268.89 64.75 L269.96 64.75 L271.03 64.75 L272.09 64.75 L273.16 64.75 L274.22 64.75 L275.29 64.75 L276.36 64.75 L277.42 64.75 L278.49 64.75 L279.55 64.75 L280.62 64.75 L281.69 64.75 L282.75 64.75 L283.82 64.75 L284.88 64.75 L285.95 64.75 L287.02 64.75 L288.08 64.75 L289.15 64.75 L290.21 64.75 L291.28 64.75 L292.35 64.75 L293.41 64.75 L294.48 64.75 L295.55 64.75 L296.61 64.75 L297.68 64.75 L298.74 64.75 L299.81 64.75 L300.88 64.75 L301.94 64.75 L303.01 64.75 L304.07 64.75 L305.14 64.75 L306.21 64.75 L307.27 64.75 L308.34 64.75 L309.40 64.75 L310.47 64.75 L311.54 64.75 L312.60 64.75 L313.67 64.75 L314.73 64.75 L315.80 64.75 L316.87 64.75 L317.93 64.75 L319.00 64.75 L320.06 64.75 L321.13 64.75 L322.20 64.75 L323.26 64.75 L324.33 64.75 L325.39 64.75 L326.46 64.75 L327.53 64.75 L328.59 64.75 L329.66 64.75 L330.72 64.75 L331.79 64.75 L332.86 64.75 L333.92 64.75 L334.99 64.75 L336.06 64.75 L337.12 64.75 L338.19 64.75 L339.25 64.75 L340.32 64.75 L341.39 64.75 L342.45 64.75 L343.52 64.75 L344.58 64.75 L345.65 64.75 L346.72 64.75 L347.78 64.75 L348.85 64.75 L349.91 64.75 L350.98 64.75 L352.05 64.75 L353.11 64.75 L354.18 64.75 L355.24 64.75 L356.31 64.75 L357.38 64.75 L358.44 64.75 L359.51 64.75 L360.57 64.75 L361.64 64.75 L362.71 64.75 L363.77 64.75 L364.84 64.75 L365.90 64.75 L366.97 64.75 L368.04 64.75 L369.10 64.75 L370.17 64.75 L371.24 64.75 L372.30 64.75 L373.37 64.75 L374.43 64.75 L375.50 64.75 L376.57 64.75 L377.63 64.75 L378.70 64.75 L379.76 64.75 L380.83 64.75 L381.90 64.75 L382.96 64.75 L384.03 64.75 L385.09 64.75 L386.16 64.75 L387.23 64.75 L388.29 64.75 L389.36 64.75 L390.42 64.75 L391.49 64.75 L392.56 64.75 L393.62 64.75 L394.69 64.75 L395.75 64.75 L396.82 64.75 L397.89 64.75 L398.95 64.75 L400.02 64.75 L401.08 64.75 L402.15 64.75 L403.22 64.75 L404.28 64.75 L405.35 64.75 L406.41 64.75 L407.48 64.75 L408.55 64.75 L409.61 64.75 L410.68 64.75 L411.75 64.75 L412.81 64.75 L413.88 64.75 L414.94 64.75 L416.01 64.75 L417.08 64.75 L418.14 64.75 L419.21 64.75 L420.27 64.75 L421.34 64.75 L422.41 64.75 L423.47 64.75 L424.54 64.75 L425.60 64.75 L426.67 64.75 L427.74 64.75 L428.80 64.75 L429.87 64.64 L430.93 64.30 L432.00 63.95 L432.00 63.65 L430.93 63.30 L429.87 62.96 L428.80 62.85 L427.74 62.85 L426.67 62.85 L425.60 62.85 L424.54 62.85 L423.47 62.85 L422.41 62.85 L421.34 62.85 L420.27 62.85 L419.21 62.85 L418.14 62.85 L417.08 62.85 L416.01 62.85 L414.94 62.85 L413.88 62.85 L412.81 62.85 L411.75 62.85 L410.68 62.85 L409.61 62.85 L408.55 62.85 L407.48 62.85 L406.41 62.85 L405.35 62.85 L404.28 62.85 L403.22 62.85 L402.15 62.85 L401.08 62.85 L400.02 62.85 L398.95 62.85 L397.89 62.85 L396.82 62.85 L395.75 62.85 L394.69 62.85 L393.62 62.85 L392.56 62.85 L391.49 62.85 L390.42 62.85 L389.36 62.85 L388.29 62.85 L387.23 62.85 L386.16 62.85 L385.09 62.85 L384.03 62.85 L382.96 62.85 L381.90 62.85 L380.83 62.85 L379.76 62.85 L378.70 62.85 L377.63 62.85 L376.57 62.85 L375.50 62.85 L374.43 62.85 L373.37 62.85 L372.30 62.85 L371.24 62.85 L370.17 62.85 L369.10 62.85 L368.04 62.85 L366.97 62.85 L365.90 62.85 L364.84 62.85 L363.77 62.85 L362.71 62.85 L361.64 62.85 L360.57 62.85 L359.51 62.85 L358.44 62.85 L357.38 62.85 L356.31 62.85 L355.24 62.85 L354.18 62.85 L353.11 62.85 L352.05 62.85 L350.98 62.85 L349.91 62.85 L348.85 62.85 L347.78 62.85 L346.72 62.85 L345.65 62.85 L344.58 62.85 L343.52 62.85 L342.45 62.85 L341.39 62.85 L340.32 62.85 L339.25 62.85 L338.19 62.85 L337.12 62.85 L336.06 62.85 L334.99 62.85 L333.92 62.85 L332.86 62.85 L331.79 62.85 L330.72 62.85 L329.66 62.85 L328.59 62.85 L327.53 62.85 L326.46 62.85 L325.39 62.85 L324.33 62.85 L323.26 62.85 L322.20 62.85 L321.13 62.85 L320.06 62.85 L319.00 62.85 L317.93 62.85 L316.87 62.85 L315.80 62.85 L314.73 62.85 L313.67 62.85 L312.60 62.85 L311.54 62.85 L310.47 62.85 L309.40 62.85 L308.34 62.85 L307.27 62.85 L306.21 62.85 L305.14 62.85 L304.07 62.85 L303.01 62.85 L301.94 62.85 L300.88 62.85 L299.81 62.85 L298.74 62.85 L297.68 62.85 L296.61 62.85 L295.55 62.85 L294.48 62.85 L293.41 62.85 L292.35 62.85 L291.28 62.85 L290.21 62.85 L289.15 62.85 L288.08 62.85 L287.02 62.85 L285.95 62.85 L284.88 62.85 L283.82 62.85 L282.75 62.85 L281.69 62.85 L280.62 62.85 L279.55 62.85 L278.49 62.85 L277.42 62.85 L276.36 62.85 L275.29 62.85 L274.22 62.85 L273.16 62.85 L272.09 62.85 L271.03 62.85 L269.96 62.85 L268.89 62.85 L267.83 62.85 L266.76 62.85 L265.70 62.85 L264.63 62.85 L263.56 62.85 L262.50 62.85 L261.43 62.85 L260.37 62.85 L259.30 62.85 L258.23 62.85 L257.17 62.85 L256.10 62.85 L255.04 62.85 L253.97 62.85 L252.90 62.85 L251.84 62.85 L250.77 62.85 L249.71 62.85 L248.64 62.85 L247.57 62.85 L246.51 62.85 L245.44 62.85 L244.38 62.85 L243.31 62.85 L242.24 62.85 L241.18 62.85 L240.11 62.85 L239.05 62.85 L237.98 62.85 L236.91 62.85 L235.85 62.85 L234.78 62.85 L233.71 62.85 L232.65 62.85 L231.58 62.85 L230.52 62.85 L229.45 62.85 L228.38 62.85 L227.32 62.85 L226.25 62.85 L225.19 62.85 L224.12 62.85 L223.05 62.85 L221.99 62.85 L220.92 62.85 L219.86 62.85 L218.79 62.85 L217.72 62.85 L216.66 62.85 L215.59 62.85 L214.53 62.85 L213.46 62.85 L212.39 62.85 L211.33 62.85 L210.26 62.85 L209.20 62.85 L208.13 62.85 L207.06 62.85 L206.00 62.85 L204.93 62.85 L203.86 62.86 L202.79 62.90 L201.72 62.95 L200.65 63.02 L199.59 63.09 L198.52 63.16 L197.45 63.23 L196.39 63.29 L195.31 63.36 L194.23 63.47 L193.16 63.62 L192.09 63.80 L191.03 64.01 L189.97 64.22 L188.92 64.45 L187.88 64.67 L186.83 64.89 L185.79 65.09 L184.74 65.33 L183.70 65.59 L182.66 65.87 L181.63 66.17 L180.60 66.48 L179.58 66.80 L178.55 67.12 L177.53 67.43 L176.51 67.73 L175.49 68.02 L174.47 68.28 L173.44 68.52 L172.42 68.72 L171.36 68.90 L170.28 69.07 L169.18 69.22 L168.09 69.34 L167.01 69.43 L165.96 69.47 L164.95 69.47 L164.02 69.42 L163.32 69.26 L162.62 68.86 L161.91 68.25 L161.21 67.49 L160.56 66.65 L159.98 65.78 L159.49 64.98 L159.12 64.28 L158.77 63.55 L158.45 62.75 L158.14 61.88 L157.84 60.95 L157.56 59.97 L157.30 58.96 L157.04 57.91 L156.79 56.85 L156.54 55.77 L156.29 54.69 L156.03 53.62 L155.77 52.55 L155.52 51.57 L155.30 50.58 L155.09 49.58 L154.90 48.55 L154.71 47.51 L154.53 46.46 L154.35 45.40 L154.17 44.32 L153.99 43.24 L153.80 42.16 L153.59 41.07 L153.36 39.99 L153.11 38.91 L152.84 37.83 L152.53 36.76 L152.19 35.70 L151.78 34.61 L151.25 33.50 L150.60 32.43 L149.86 31.41 L149.05 30.45 L148.18 29.59 L147.26 28.83 L146.28 28.23 L145.11 27.67 L143.84 27.23 L142.58 26.98 L141.41 26.97 L140.27 27.10 L139.10 27.33 L137.96 27.63 L136.91 27.97 L135.88 28.41 L134.89 29.01 L133.95 29.73 L133.07 30.52 L132.25 31.36 L131.48 32.21 L130.77 33.04 L130.09 33.86 L129.40 34.76 L128.76 35.68 L128.15 36.61 L127.58 37.55 L127.02 38.49 L126.47 39.41 L125.92 40.31 L125.37 41.19 L124.80 42.03 L124.22 42.82 L123.61 43.57 L122.95 44.31 L122.27 45.07 L121.56 45.82 L120.82 46.54 L120.06 47.22 L119.27 47.82 L118.42 48.43 L117.54 49.00 L116.63 49.48 L115.70 49.82 L114.68 50.10 L113.66 50.36 L112.62 50.58 L111.59 50.73 L110.58 50.80 L109.55 50.75 L108.52 50.58 L107.49 50.32 L106.46 50.02 L105.44 49.72 L104.41 49.46 L103.45 49.24 L102.50 48.96 L101.53 48.63 L100.55 48.28 L99.54 47.91 L98.52 47.55 L97.54 47.22 L96.57 46.86 L95.57 46.49 L94.56 46.12 L93.52 45.76 L92.46 45.43 L91.43 45.15 L90.38 44.90 L89.31 44.66 L88.23 44.45 L87.13 44.26 L86.04 44.10 L84.99 43.95 L83.92 43.81 L82.85 43.68 L81.77 43.56 L80.68 43.46 L79.59 43.39 L78.50 43.35 L77.42 43.35 L76.35 43.35 L75.29 43.35 L74.23 43.35 L73.16 43.35 L72.10 43.35 L71.04 43.35 L69.97 43.35 L68.91 43.35 L67.84 43.35 L66.78 43.35 L65.71 43.35 L64.65 43.35 L63.58 43.35 L62.52 43.35 L61.45 43.35 L60.39 43.35 L59.32 43.35 L58.25 43.35 L57.19 43.35 L56.12 43.35 L55.05 43.35 L53.98 43.35 L52.92 43.35 L51.85 43.35 L50.78 43.35 L49.71 43.35 L48.64 43.35 L47.57 43.35 L46.50 43.35Z"/>
<text x="57.8" y="74.2" style="font-family:'Liberation Serif',serif;font-size:32px;fill:#8b989d;stroke:#8b989d;stroke-width:0.5px" textLength="83" lengthAdjust="spacingAndGlyphs">nature</text>
<text x="57.4" y="92.3" style="font-weight:bold;font-size:16.8px;fill:#8b989d;stroke:#8b989d;stroke-width:0.7px" textLength="170" lengthAdjust="spacingAndGlyphs">COMMUNICATIONS</text>
<text x="316" y="209.3" style="font-size:14.6px;font-weight:bold;fill:#f18a26" textLength="40.3" lengthAdjust="spacingAndGlyphs">OPEN</text>
<defs><linearGradient id="bg" x1="0" y1="0" x2="0" y2="1"><stop offset="0" stop-color="#fdfdfd"/><stop offset="0.4" stop-color="#f3f3f3"/><stop offset="1" stop-color="#d5d5d5"/></linearGradient></defs>
<rect x="648.1" y="166.7" width="95.2" height="17.3" rx="2.3" fill="url(#bg)" stroke="#8c8c8c" stroke-width="1"/>
<g>
<circle cx="658.1" cy="175.3" r="5.8" fill="none" stroke="#f5c42d" stroke-width="1.6"/>
<path d="M652.76 173.03 A5.8 5.8 0 1 1 662.54 179.03" fill="none" stroke="#41b6d6" stroke-width="1.6"/>
<path d="M655.1 170.7 H660.9 V178.7 L658 176.5 L655.1 178.7 Z" fill="#f0303c"/>
</g>
<text x="670.9" y="178" style="font-size:9px;fill:#444" textLength="69" lengthAdjust="spacingAndGlyphs">Check for updates</text>

<g id="orcid"><circle cx="252" cy="386.4" r="6" fill="#8cc81e"/><path fill="none" stroke="#fff" stroke-width="0.75" d="M249.35 383.8V389.15 M251.9 384.3V388.85H252.9A2.45 2.45 0 0 0 252.9 384.3H251.9"/><circle cx="249.35" cy="382.8" r="0.5" fill="#fff"/><circle cx="629.15" cy="386.5" r="6" fill="#8cc81e"/><path fill="none" stroke="#fff" stroke-width="0.75" d="M626.5 383.9V389.25 M629.05 384.4V388.95H630.05A2.45 2.45 0 0 0 630.05 384.4H629.05"/><circle cx="626.5" cy="382.9" r="0.5" fill="#fff"/><circle cx="618.65" cy="408.2" r="6" fill="#8cc81e"/><path fill="none" stroke="#fff" stroke-width="0.75" d="M616 405.6V410.95 M618.55 406.1V410.65H619.55A2.45 2.45 0 0 0 619.55 406.1H618.55"/><circle cx="616" cy="404.6" r="0.5" fill="#fff"/></g>
<g fill="none" stroke="#333" stroke-width="0.8">
<rect x="661.2" y="398.7" width="9.2" height="6"/>
<path d="M661.2 398.7 L665.8 402.6 L670.4 398.7 M661.2 404.7 L664.6 401.6 M670.4 404.7 L667 401.6"/>
</g>
<text class="t" transform="matrix(0.8000 0 0 1 58.45 248.80)" style="font-size:30.5px">E</text>
<text class="t" transform="matrix(1.1878 0 0 1 75.12 248.80)">p</text>
<text class="t" transform="matrix(1.0032 0 0 1 92.05 248.80)">i</text>
<text class="t" transform="matrix(1.1389 0 0 1 99.06 248.80)">g</text>
<text class="t" transform="matrix(0.9498 0 0 1 116.13 248.80)">e</text>
<text class="t" transform="matrix(0.9599 0 0 1 131.98 248.80)">n</text>
<text class="t" transform="matrix(1.1137 0 0 1 147.69 248.80)">o</text>
<text class="t" transform="matrix(1.0353 0 0 1 165.84 248.80)">m</text>
<text class="t" transform="matrix(0.9954 0 0 1 190.73 248.80)">e</text>
<text class="t" transform="matrix(1.1662 0 0 1 207.06 247.90)">-</text>
<text class="t" transform="matrix(1.0537 0 0 1 219.86 248.80)">w</text>
<text class="t" transform="matrix(1.0032 0 0 1 241.85 248.80)">i</text>
<text class="t" transform="matrix(1.0913 0 0 1 248.72 248.80)">d</text>
<text class="t" transform="matrix(0.9119 0 0 1 266.93 248.80)">e</text>
<text class="t" transform="matrix(1.0506 0 0 1 291.81 248.80)">m</text>
<text class="t" transform="matrix(1.0182 0 0 1 317.30 248.80)">e</text>
<text class="t" transform="matrix(1.2200 0 0 1 333.99 248.80)">t</text>
<text class="t" transform="matrix(0.8000 0 0 1 345.17 248.80)">a</text>
<text class="t" transform="matrix(1.1079 0 0 1 359.64 247.90)">-</text>
<text class="t" transform="matrix(0.8252 0 0 1 371.53 248.80)">a</text>
<text class="t" transform="matrix(0.9641 0 0 1 386.72 248.80)">n</text>
<text class="t" transform="matrix(0.8426 0 0 1 403.76 248.80)">a</text>
<text class="t" transform="matrix(1.1035 0 0 1 418.93 248.80)">l</text>
<text class="t" transform="matrix(1.0369 0 0 1 425.54 248.80)">y</text>
<text class="t" transform="matrix(0.8377 0 0 1 441.62 248.80)">s</text>
<text class="t" transform="matrix(1.0032 0 0 1 455.65 248.80)">i</text>
<text class="t" transform="matrix(0.8663 0 0 1 463.75 248.80)">s</text>
<text class="t" transform="matrix(1.1326 0 0 1 487.42 248.80)">o</text>
<text class="t" transform="matrix(1.0070 0 0 1 505.21 248.80)">f</text>
<text class="t" transform="matrix(0.9565 0 0 1 525.31 248.80)" style="font-size:30.5px">D</text>
<text class="t" transform="matrix(0.9766 0 0 1 547.81 248.80)" style="font-size:30.5px">N</text>
<text class="t" transform="matrix(0.9495 0 0 1 570.74 248.80)" style="font-size:30.5px">A</text>
<text class="t" transform="matrix(1.0938 0 0 1 58.73 283.80)">m</text>
<text class="t" transform="matrix(0.9954 0 0 1 84.83 283.80)">e</text>
<text class="t" transform="matrix(1.2200 0 0 1 101.24 283.80)">t</text>
<text class="t" transform="matrix(1.0258 0 0 1 111.27 283.80)">h</text>
<text class="t" transform="matrix(1.0621 0 0 1 127.44 283.80)">y</text>
<text class="t" transform="matrix(1.1200 0 0 1 143.93 283.80)">l</text>
<text class="t" transform="matrix(0.8252 0 0 1 151.53 283.80)">a</text>
<text class="t" transform="matrix(1.2200 0 0 1 166.37 283.80)">t</text>
<text class="t" transform="matrix(1.0032 0 0 1 176.90 283.80)">i</text>
<text class="t" transform="matrix(1.1137 0 0 1 183.94 283.80)">o</text>
<text class="t" transform="matrix(0.9767 0 0 1 201.95 283.80)">n</text>
<text class="t" transform="matrix(1.0873 0 0 1 228.12 283.80)">d</text>
<text class="t" transform="matrix(1.0032 0 0 1 245.40 283.80)">i</text>
<text class="t" transform="matrix(1.1815 0 0 1 252.64 283.80)">f</text>
<text class="t" transform="matrix(1.1412 0 0 1 262.05 283.80)">f</text>
<text class="t" transform="matrix(0.9954 0 0 1 271.33 283.80)">e</text>
<text class="t" transform="matrix(1.0672 0 0 1 287.43 283.80)">r</text>
<text class="t" transform="matrix(1.0068 0 0 1 297.57 283.80)">e</text>
<text class="t" transform="matrix(0.9641 0 0 1 314.22 283.80)">n</text>
<text class="t" transform="matrix(0.9507 0 0 1 330.13 283.80)">c</text>
<text class="t" transform="matrix(0.9992 0 0 1 345.07 283.80)">e</text>
<text class="t" transform="matrix(0.8867 0 0 1 361.58 283.80)">s</text>
<text class="t" transform="matrix(1.0032 0 0 1 386.25 283.80)">i</text>
<text class="t" transform="matrix(1.0060 0 0 1 393.74 283.80)">n</text>
<text class="t" transform="matrix(1.2037 0 0 1 420.74 283.80)">p</text>
<text class="t" transform="matrix(1.1170 0 0 1 438.19 283.80)">r</text>
<text class="t" transform="matrix(1.0258 0 0 1 448.19 283.80)">e</text>
<text class="t" transform="matrix(1.2200 0 0 1 464.05 283.80)">f</text>
<text class="t" transform="matrix(1.0814 0 0 1 474.00 283.80)">r</text>
<text class="t" transform="matrix(1.1326 0 0 1 484.27 283.80)">o</text>
<text class="t" transform="matrix(0.9935 0 0 1 502.56 283.80)">n</text>
<text class="t" transform="matrix(1.2200 0 0 1 518.12 283.80)">t</text>
<text class="t" transform="matrix(0.8114 0 0 1 529.45 283.80)">a</text>
<text class="t" transform="matrix(1.1035 0 0 1 544.18 283.80)">l</text>
<text class="t" transform="matrix(0.9921 0 0 1 562.83 283.80)">c</text>
<text class="t" transform="matrix(1.1326 0 0 1 577.42 283.80)">o</text>
<text class="t" transform="matrix(1.0672 0 0 1 595.53 283.80)">r</text>
<text class="t" transform="matrix(1.2200 0 0 1 605.74 283.80)">t</text>
<text class="t" transform="matrix(0.9954 0 0 1 615.73 283.80)">e</text>
<text class="t" transform="matrix(1.0066 0 0 1 631.19 283.80)">x</text>
<text class="t" transform="matrix(1.1035 0 0 1 58.71 318.80)">i</text>
<text class="t" transform="matrix(1.0938 0 0 1 66.48 318.80)">m</text>
<text class="t" transform="matrix(1.1878 0 0 1 92.62 318.80)">p</text>
<text class="t" transform="matrix(1.1200 0 0 1 109.55 318.80)">l</text>
<text class="t" transform="matrix(1.0032 0 0 1 117.25 318.80)">i</text>
<text class="t" transform="matrix(0.9507 0 0 1 124.63 318.80)">c</text>
<text class="t" transform="matrix(0.8495 0 0 1 139.00 318.80)">a</text>
<text class="t" transform="matrix(1.2200 0 0 1 153.99 318.80)">t</text>
<text class="t" transform="matrix(0.9688 0 0 1 165.11 318.80)">e</text>
<text class="t" transform="matrix(0.8663 0 0 1 181.25 318.80)">s</text>
<text class="t" transform="matrix(1.2200 0 0 1 205.92 318.80)">t</text>
<text class="t" transform="matrix(1.0047 0 0 1 216.16 318.80)">h</text>
<text class="t" transform="matrix(0.9802 0 0 1 232.85 318.80)">e</text>
<text class="t" transform="matrix(1.0032 0 0 1 259.15 318.80)">i</text>
<text class="t" transform="matrix(1.0811 0 0 1 266.75 318.80)">m</text>
<text class="t" transform="matrix(1.0684 0 0 1 293.03 318.80)">m</text>
<text class="t" transform="matrix(0.9767 0 0 1 318.85 318.80)">u</text>
<text class="t" transform="matrix(0.9851 0 0 1 335.43 318.80)">n</text>
<text class="t" transform="matrix(1.0182 0 0 1 351.30 318.80)">e</text>
<text class="t" transform="matrix(1.2195 0 0 1 378.41 318.80)">p</text>
<text class="t" transform="matrix(1.1383 0 0 1 396.00 318.80)">r</text>
<text class="t" transform="matrix(1.1515 0 0 1 406.15 318.80)">o</text>
<text class="t" transform="matrix(0.9507 0 0 1 424.48 318.80)">c</text>
<text class="t" transform="matrix(0.9954 0 0 1 438.83 318.80)">e</text>
<text class="t" transform="matrix(0.8459 0 0 1 455.26 318.80)">s</text>
<text class="t" transform="matrix(0.8581 0 0 1 469.10 318.80)">s</text>
<text class="t" transform="matrix(0.9992 0 0 1 481.92 318.80)">e</text>
<text class="t" transform="matrix(0.8663 0 0 1 498.75 318.80)">s</text>
<text class="t" transform="matrix(1.1035 0 0 1 522.71 318.80)">i</text>
<text class="t" transform="matrix(0.9977 0 0 1 530.66 318.80)">n</text>
<text class="t" transform="matrix(0.9693 0 0 1 558.44 318.80)" style="font-size:30.5px">A</text>
<text class="t" transform="matrix(1.1200 0 0 1 579.83 318.80)">l</text>
<text class="t" transform="matrix(1.0341 0 0 1 586.94 318.80)">z</text>
<text class="t" transform="matrix(1.0005 0 0 1 601.82 318.80)">h</text>
<text class="t" transform="matrix(0.9954 0 0 1 618.23 318.80)">e</text>
<text class="t" transform="matrix(1.0032 0 0 1 634.65 318.80)">i</text>
<text class="t" transform="matrix(1.0989 0 0 1 641.97 318.80)">m</text>
<text class="t" transform="matrix(0.9954 0 0 1 668.23 318.80)">e</text>
<text class="t" transform="matrix(1.1027 0 0 1 684.21 318.80)">r</text>
<text class="t" transform="matrix(1.0823 0 0 1 694.12 318.80)">’</text>
<text class="t" transform="matrix(0.8990 0 0 1 701.82 318.80)">s</text>
<text class="t" transform="matrix(1.0913 0 0 1 58.57 353.80)">d</text>
<text class="t" transform="matrix(1.0835 0 0 1 75.70 353.80)">i</text>
<text class="t" transform="matrix(0.8990 0 0 1 83.92 353.80)">s</text>
<text class="t" transform="matrix(0.9954 0 0 1 97.43 353.80)">e</text>
<text class="t" transform="matrix(0.8426 0 0 1 114.11 353.80)">a</text>
<text class="t" transform="matrix(0.8990 0 0 1 129.62 353.80)">s</text>
<text class="t" transform="matrix(0.9954 0 0 1 142.83 353.80)">e</text>
<text class="a" transform="matrix(0.7790 0 0 1 58.76 389.80)" letter-spacing="0.599" style="font-size:15.5px">L</text>
<text class="a" transform="matrix(0.9500 0 0 1 65.94 389.80)" letter-spacing="0.491">anyu</text>
<text class="a" transform="matrix(0.9215 0 0 1 99.96 389.80)" letter-spacing="0.281" style="font-size:15.5px">Z</text>
<text class="a" transform="matrix(0.9500 0 0 1 108.94 389.80)" letter-spacing="0.273">hang</text>
<text class="s" transform="matrix(1.0000 0 0 1 137.91 385.00)" letter-spacing="-0.877">1,5</text>
<text class="a" transform="matrix(0.9500 0 0 1 151.29 389.80)">,</text>
<text class="a" transform="matrix(0.8550 0 0 1 160.96 389.80)" letter-spacing="0.303" style="font-size:15.5px">T</text>
<text class="a" transform="matrix(0.9500 0 0 1 169.31 389.80)" letter-spacing="0.273">iago</text>
<text class="a" transform="matrix(0.7976 0 0 1 198.48 389.80)" style="font-size:15.5px">C</text>
<text class="a" transform="matrix(1.1500 0 0 1 207.41 389.80)" style="font-size:13.1px">.</text>
<text class="a" transform="matrix(0.8550 0 0 1 216.30 389.80)" letter-spacing="-0.211" style="font-size:15.5px">S</text>
<text class="a" transform="matrix(0.9500 0 0 1 224.96 389.80)" letter-spacing="-0.190">ilva</text>
<text class="s" transform="matrix(1.0000 0 0 1 260.66 385.00)" letter-spacing="-0.752">1,5</text>
<text class="a" transform="matrix(0.9500 0 0 1 273.99 389.80)">,</text>
<text class="a" transform="matrix(0.8170 0 0 1 282.91 389.80)" letter-spacing="-0.083" style="font-size:15.5px">J</text>
<text class="a" transform="matrix(0.9500 0 0 1 289.17 389.80)" letter-spacing="-0.071">uan</text>
<text class="a" transform="matrix(1.1500 0 0 1 314.42 389.80)" style="font-size:15.5px">I</text>
<text class="a" transform="matrix(1.1500 0 0 1 318.66 389.80)" style="font-size:13.1px">.</text>
<text class="a" transform="matrix(0.8740 0 0 1 328.20 389.80)" letter-spacing="0.538" style="font-size:15.5px">Y</text>
<text class="a" transform="matrix(0.9500 0 0 1 337.71 389.80)" letter-spacing="0.495">oung</text>
<text class="s" transform="matrix(1.0000 0 0 1 367.55 385.00)" letter-spacing="-0.234">2,3</text>
<text class="a" transform="matrix(0.9500 0 0 1 381.89 389.80)">,</text>
<text class="a" transform="matrix(0.7790 0 0 1 390.11 389.80)" letter-spacing="0.735" style="font-size:15.5px">L</text>
<text class="a" transform="matrix(0.9500 0 0 1 397.40 389.80)" letter-spacing="0.602">issette</text>
<text class="a" transform="matrix(0.9025 0 0 1 442.05 389.80)" letter-spacing="0.457" style="font-size:15.5px">G</text>
<text class="a" transform="matrix(0.9500 0 0 1 453.34 389.80)" letter-spacing="0.434">omez</text>
<text class="s" transform="matrix(1.0048 0 0 1 485.58 385.00)">3</text>
<text class="a" transform="matrix(0.9500 0 0 1 491.49 389.80)">,</text>
<text class="a" transform="matrix(0.9120 0 0 1 499.84 389.80)" letter-spacing="0.491" style="font-size:15.5px">M</text>
<text class="a" transform="matrix(0.9500 0 0 1 512.06 389.80)" letter-spacing="0.471">ichael</text>
<text class="a" transform="matrix(0.9439 0 0 1 553.47 389.80)" style="font-size:15.5px">A</text>
<text class="a" transform="matrix(1.1500 0 0 1 563.66 389.80)" style="font-size:13.1px">.</text>
<text class="a" transform="matrix(0.8550 0 0 1 572.15 389.80)" letter-spacing="0.708" style="font-size:15.5px">S</text>
<text class="a" transform="matrix(0.9500 0 0 1 581.60 389.80)" letter-spacing="0.637">chmidt</text>
<text class="s" transform="matrix(1.0000 0 0 1 638.45 385.00)" letter-spacing="0.016">2,3</text>
<text class="a" transform="matrix(0.9500 0 0 1 653.29 389.80)">,</text>
<text class="a" transform="matrix(0.7600 0 0 1 58.78 411.70)" letter-spacing="0.488" style="font-size:15.5px">K</text>
<text class="a" transform="matrix(0.9500 0 0 1 67.01 411.70)" letter-spacing="0.391">ara</text>
<text class="a" transform="matrix(0.6876 0 0 1 91.63 411.70)" style="font-size:15.5px">L</text>
<text class="a" transform="matrix(1.1500 0 0 1 97.66 411.70)" style="font-size:13.1px">.</text>
<text class="a" transform="matrix(0.9120 0 0 1 107.09 411.70)" letter-spacing="0.727" style="font-size:15.5px">H</text>
<text class="a" transform="matrix(0.9500 0 0 1 117.96 411.70)" letter-spacing="0.698">amilton-</text>
<text class="a" transform="matrix(0.9120 0 0 1 167.53 411.70)" letter-spacing="0.727" style="font-size:15.5px">N</text>
<text class="a" transform="matrix(0.9500 0 0 1 178.40 411.70)" letter-spacing="0.698">elson</text>
<text class="s" transform="matrix(1.0335 0 0 1 211.07 407.30)">3</text>
<text class="a" transform="matrix(0.9500 0 0 1 217.09 411.70)">,</text>
<text class="a" transform="matrix(0.8170 0 0 1 225.86 411.70)" letter-spacing="0.227" style="font-size:15.5px">B</text>
<text class="a" transform="matrix(0.9500 0 0 1 234.49 411.70)" letter-spacing="0.195">rian</text>
<text class="a" transform="matrix(0.8744 0 0 1 262.45 411.70)" style="font-size:15.5px">W</text>
<text class="a" transform="matrix(1.1500 0 0 1 275.66 411.70)" style="font-size:13.1px">.</text>
<text class="a" transform="matrix(0.7600 0 0 1 284.63 411.70)" letter-spacing="0.938" style="font-size:15.5px">K</text>
<text class="a" transform="matrix(0.9500 0 0 1 293.20 411.70)" letter-spacing="0.750">unkle</text>
<text class="s" transform="matrix(1.0000 0 0 1 326.35 407.30)" letter-spacing="-0.533">2,3</text>
<text class="a" transform="matrix(0.9500 0 0 1 340.29 411.70)">,</text>
<text class="a" transform="matrix(0.8550 0 0 1 349.71 411.70)" letter-spacing="0.144" style="font-size:15.5px">X</text>
<text class="a" transform="matrix(0.9500 0 0 1 358.67 411.70)" letter-spacing="0.130">i</text>
<text class="a" transform="matrix(0.8740 0 0 1 366.72 411.70)" letter-spacing="0.279" style="font-size:15.5px">C</text>
<text class="a" transform="matrix(0.9500 0 0 1 376.75 411.70)" letter-spacing="0.257">hen</text>
<text class="s" transform="matrix(1.0000 0 0 1 398.16 407.30)" letter-spacing="-0.618">1,4</text>
<text class="a" transform="matrix(0.9500 0 0 1 411.89 411.70)">,</text>
<text class="a" transform="matrix(0.7030 0 0 1 420.61 411.70)" letter-spacing="1.026" style="font-size:15.5px">E</text>
<text class="a" transform="matrix(0.9500 0 0 1 428.60 411.70)" letter-spacing="0.759">den</text>
<text class="a" transform="matrix(0.6734 0 0 1 456.04 411.70)" style="font-size:15.5px">R</text>
<text class="a" transform="matrix(1.1500 0 0 1 463.56 411.70)" style="font-size:13.1px">.</text>
<text class="a" transform="matrix(0.9120 0 0 1 472.44 411.70)" letter-spacing="0.937" style="font-size:15.5px">M</text>
<text class="a" transform="matrix(0.9500 0 0 1 485.07 411.70)" letter-spacing="0.900">artin</text>
<text class="s" transform="matrix(1.0000 0 0 1 513.05 407.30)" letter-spacing="-0.083">2,3</text>
<text class="a" transform="matrix(0.9986 0 0 1 533.21 411.70)" style="font-size:15.5px">&amp;</text>
<text class="a" transform="matrix(0.7790 0 0 1 548.31 411.70)" letter-spacing="0.450" style="font-size:15.5px">L</text>
<text class="a" transform="matrix(0.9500 0 0 1 555.38 411.70)" letter-spacing="0.369">ily</text>
<text class="a" transform="matrix(0.9120 0 0 1 573.94 411.70)" letter-spacing="1.372" style="font-size:15.5px">W</text>
<text class="a" transform="matrix(0.9500 0 0 1 588.54 411.70)" letter-spacing="1.317">ang</text>
<text class="s" transform="matrix(1.0000 0 0 1 627.41 407.30)" letter-spacing="-0.414">1,2,3,4</text>
<text class="art" transform="matrix(0.9804 0 0 1 59.06 183.90)" style="font-size:18px">A</text>
<text class="art" transform="matrix(0.7950 0 0 1 72.03 183.90)" style="font-size:18px">R</text>
<text class="art" transform="matrix(0.9717 0 0 1 82.22 183.90)" style="font-size:18px">T</text>
<text class="art" transform="matrix(0.9456 0 0 1 92.93 183.90)" style="font-size:18px">I</text>
<text class="art" transform="matrix(0.9186 0 0 1 97.77 183.90)" style="font-size:18px">C</text>
<text class="art" transform="matrix(0.7811 0 0 1 110.55 183.90)" style="font-size:18px">L</text>
<text class="art" transform="matrix(0.7111 0 0 1 119.25 183.90)" style="font-size:18px">E</text>
<text class="doi" transform="matrix(1.0000 0 0 1 62.52 208.90)" letter-spacing="0.580">https:</text>
<path d="M93.40 210.4L95.92 200.6" stroke="#fff" stroke-width="1.35" fill="none"/>
<path d="M97.53 210.4L100.05 200.6" stroke="#fff" stroke-width="1.35" fill="none"/>
<text class="doi" transform="matrix(1.0000 0 0 1 101.35 208.90)" letter-spacing="-0.107">doi.org</text>
<path d="M134.65 210.4L137.85 200.6" stroke="#fff" stroke-width="1.35" fill="none"/>
<text class="doi" transform="matrix(1.0000 0 0 1 139.39 208.90)" letter-spacing="-0.004">10.1038</text>
<path d="M175.90 210.4L180.60 200.6" stroke="#fff" stroke-width="1.35" fill="none"/>
<text class="doi" transform="matrix(1.0000 0 0 1 181.66 208.90)" letter-spacing="0.212">s41467</text>
<text class="doi" transform="matrix(1.4061 0 0 1 215.46 208.90)">-</text>
<text class="doi" transform="matrix(1.0000 0 0 1 219.87 208.90)" letter-spacing="0.464">020</text>
<text class="doi" transform="matrix(1.3860 0 0 1 237.27 208.90)">-</text>
<text class="doi" transform="matrix(1.0000 0 0 1 241.69 208.90)" letter-spacing="-0.483">19791</text>
<text class="doi" transform="matrix(1.3860 0 0 1 267.27 208.90)">-</text>
<text class="doi" transform="matrix(1.0751 0 0 1 272.03 208.90)">w</text>
</svg>
</body></html>
